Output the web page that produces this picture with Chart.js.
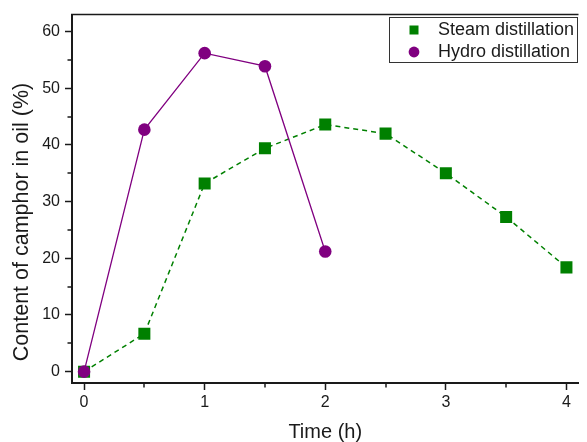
<!DOCTYPE html>
<html>
<head>
<meta charset="utf-8">
<script src="https://cdn.jsdelivr.net/npm/chart.js@4.4.0/dist/chart.umd.min.js"></script>
<style>
  html, body { margin: 0; padding: 0; background: #fff; }
  canvas { display: block; }
</style>
</head>
<body>
<canvas id="camphorChart" width="587" height="442"></canvas>
<script>
// Camphor content vs. distillation time
const steamTime   = [0, 0.5, 1, 1.5, 2, 2.5, 3, 3.5, 4];
const steamValues = [0, 6.7, 33.2, 39.4, 43.6, 42.0, 35.0, 27.3, 18.4];
const hydroTime   = [0, 0.5, 1, 1.5, 2];
const hydroValues = [0, 42.7, 56.2, 53.9, 21.2];

const seriesLabels = ['Steam distillation', 'Hydro distillation'];
const xTicks      = [0, 1, 2, 3, 4];
const xMinorTicks = [0.5, 1.5, 2.5, 3.5];
const yTicks      = [0, 10, 20, 30, 40, 50, 60];
const yMinorTicks = [5, 15, 25, 35, 45, 55];

const FONT = '"Liberation Sans", Arial, Helvetica, sans-serif';
const INK = '#1a1a1a';
const GREEN = '#008000';
const PURPLE = '#800080';

// minor ticks, top frame line, y title and the boxed legend
const extras = {
  id: 'extras',
  afterDraw(chart) {
    const { ctx, chartArea: a, scales: { x, y } } = chart;
    ctx.save();

    ctx.strokeStyle = INK;
    ctx.lineWidth = 1.5;
    ctx.beginPath();
    xMinorTicks.forEach(v => {
      const px = Math.round(x.getPixelForValue(v));
      ctx.moveTo(px, a.bottom); ctx.lineTo(px, a.bottom + 4.5);
    });
    yMinorTicks.forEach(v => {
      const py = Math.round(y.getPixelForValue(v));
      ctx.moveTo(a.left, py); ctx.lineTo(a.left - 4.5, py);
    });
    ctx.stroke();

    ctx.lineWidth = 1.5;
    ctx.beginPath();
    ctx.moveTo(a.left - 1, a.top); ctx.lineTo(a.right, a.top);
    ctx.stroke();

    // y axis title
    ctx.save();
    ctx.translate(22, 222);
    ctx.rotate(-Math.PI / 2);
    ctx.fillStyle = INK;
    ctx.font = '21.5px ' + FONT;
    ctx.textAlign = 'center';
    ctx.textBaseline = 'middle';
    ctx.fillText('Content of camphor in oil (%)', 0, 0);
    ctx.restore();

    // legend
    const bx = 389.5, by = 17.5, bw = 188, bh = 45;
    ctx.fillStyle = '#fff';
    ctx.fillRect(bx, by, bw, bh);
    ctx.strokeStyle = '#333';
    ctx.lineWidth = 1;
    ctx.strokeRect(bx, by, bw, bh);

    ctx.fillStyle = GREEN;
    ctx.fillRect(409.5, 25.5, 9, 9);
    ctx.fillStyle = PURPLE;
    ctx.beginPath();
    ctx.arc(414, 52, 5.4, 0, Math.PI * 2);
    ctx.fill();

    ctx.fillStyle = INK;
    ctx.font = '18px ' + FONT;
    ctx.textAlign = 'left';
    ctx.textBaseline = 'middle';
    ctx.fillText(seriesLabels[0], 438, 30);
    ctx.fillText(seriesLabels[1], 438, 52);

    ctx.restore();
  }
};

new Chart(document.getElementById('camphorChart'), {
  type: 'line',
  data: {
    datasets: [
      {
        label: seriesLabels[0],
        data: steamTime.map((t, i) => ({ x: t, y: steamValues[i] })),
        borderColor: GREEN,
        borderWidth: 1.5,
        borderDash: [5, 4],
        pointStyle: 'rect',
        pointRadius: 8.5,
        pointBackgroundColor: GREEN,
        pointBorderWidth: 0,
        tension: 0,
        order: 1
      },
      {
        label: seriesLabels[1],
        data: hydroTime.map((t, i) => ({ x: t, y: hydroValues[i] })),
        borderColor: PURPLE,
        borderWidth: 1.3,
        pointStyle: 'circle',
        pointRadius: 6.3,
        pointBackgroundColor: PURPLE,
        pointBorderWidth: 0,
        tension: 0,
        order: 0
      }
    ]
  },
  options: {
    responsive: false,
    animation: false,
    devicePixelRatio: 1,
    layout: { padding: { top: 12, right: 0, bottom: 0, left: 0 } },
    plugins: { legend: { display: false }, tooltip: { enabled: false } },
    elements: { line: { fill: false } },
    scales: {
      x: {
        type: 'linear',
        min: -0.1,
        max: 4.1,
        afterBuildTicks: s => { s.ticks = xTicks.map(v => ({ value: v })); },
        afterFit: s => { s.height = 59; },
        grid: { drawOnChartArea: false, drawTicks: true, tickLength: 7, tickWidth: 1.5, tickColor: INK },
        border: { display: true, color: INK, width: 2 },
        ticks: { color: INK, font: { family: FONT, size: 16 }, padding: 3, maxRotation: 0, autoSkip: false },
        title: {
          display: true, text: 'Time (h)', color: INK,
          font: { family: FONT, size: 20, lineHeight: 1 },
          padding: { top: 0, bottom: 0 }
        }
      },
      y: {
        type: 'linear',
        min: -2,
        max: 63,
        afterBuildTicks: s => { s.ticks = yTicks.map(v => ({ value: v })); },
        afterFit: s => { s.width = 72; },
        grid: { drawOnChartArea: false, drawTicks: true, tickLength: 7, tickWidth: 1.5, tickColor: INK },
        border: { display: true, color: INK, width: 2 },
        ticks: { color: INK, font: { family: FONT, size: 16 }, padding: 5 }
      }
    }
  },
  plugins: [extras]
});
</script>
</body>
</html>
